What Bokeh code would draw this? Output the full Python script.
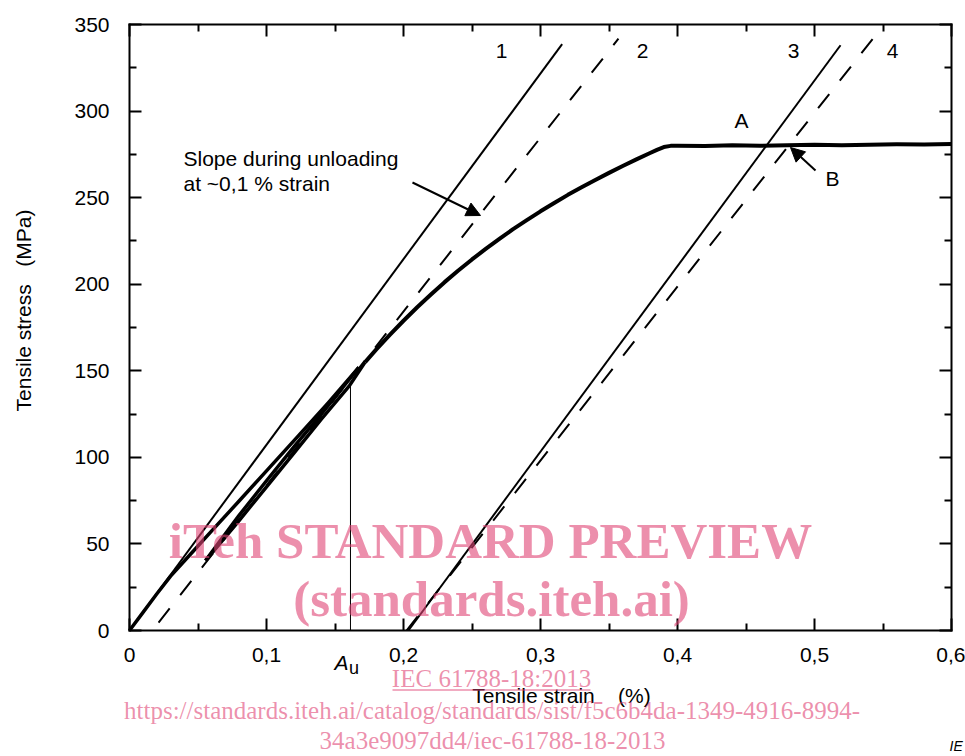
import math
from bokeh.plotting import figure
from bokeh.models import (Range1d, LinearAxis, FixedTicker, CustomJSTickFormatter,
                          Label, Arrow, NormalHead)
from bokeh.embed import file_html
from bokeh.resources import INLINE

# ---------------- data ----------------
x_ticks = [0, 0.1, 0.2, 0.3, 0.4, 0.5, 0.6]
x_minor = [0.05, 0.15, 0.25, 0.35, 0.45, 0.55]
y_ticks = [0, 50, 100, 150, 200, 250, 300, 350]
y_minor = [25, 75, 125, 175, 225, 275, 325]

# stress-strain curve (strain %, stress MPa)
loading_x = [0, 0.01, 0.02, 0.03, 0.045, 0.06, 0.08, 0.10, 0.1224, 0.145, 0.1674]
loading_y = [0, 10.6, 21.2, 31.4, 44.5, 57.5, 74.8, 92.2, 111.7, 131.5, 152]
unloading_x = [0.1674, 0.14, 0.12, 0.10, 0.08, 0.0555]
unloading_y = [152, 125, 106, 86.5, 66.5, 40.4]
reloading_x = [0.0555, 0.08, 0.10, 0.12, 0.14, 0.1606, 0.172]
reloading_y = [40.4, 63.5, 83, 102.5, 122, 141.5, 155]
post_x = [0.172, 0.18, 0.19, 0.20, 0.21, 0.22, 0.23, 0.24, 0.25, 0.26, 0.27, 0.28,
          0.29, 0.30, 0.31, 0.32, 0.33, 0.34, 0.35, 0.36, 0.37, 0.38, 0.385, 0.39,
          0.395, 0.40, 0.42, 0.44, 0.46, 0.48, 0.50, 0.52, 0.54, 0.56, 0.58, 0.60]
post_y = [155, 162.2, 170.7, 178.9, 186.7, 194.1, 201.2, 207.9, 214.3, 220.4, 226.2, 231.8,
          237.0, 242.1, 246.9, 251.6, 256.0, 260.2, 264.3, 268.3, 272.1, 275.8, 277.6, 279.2,
          279.9, 280, 279.8, 280.3, 280, 280.2, 280.5, 280.3, 280.6, 280.8, 280.7, 281]

# straight reference lines (start / end points)
line1_x = [0, 0.3158]
line1_y = [0, 338.7]
line2_x = [0.0212, 0.3569]
line2_y = [4.6, 341.8]
line3_x = [0.2036, 0.519]
line3_y = [0, 338]
line4_x = [0.2022, 0.5445]
line4_y = [0, 343.7]

au_x = [0.1613, 0.1613]
au_y = [0, 141.5]

line_names = ["1", "2", "3", "4"]

FONT = "Liberation Sans"
SERIF = "Liberation Serif"

# the frame covers the whole canvas; the data box (0..0.6, 0..350) sits at
# page px x 129..951, y 630..24
X_SCALE = 822 / 0.6
Y_SCALE = 606 / 350.0
W, H = 965, 756


def rf(px, py):
    """page pixel -> data coords"""
    return (px - 129) / X_SCALE, (630 - py) / Y_SCALE


x0, y1 = rf(0, 0)
x1, y0 = rf(W, H)

p = figure(width=W, height=H, output_backend="svg", toolbar_location=None,
           x_range=Range1d(x0, x1), y_range=Range1d(y0, y1),
           x_axis_location=None, y_axis_location=None,
           min_border_left=0, min_border_right=0, min_border_top=0,
           min_border_bottom=0)
p.xgrid.visible = False
p.ygrid.visible = False
p.outline_line_color = None
p.background_fill_color = "white"
p.border_fill_color = "white"

xt = FixedTicker(ticks=x_ticks, minor_ticks=x_minor)
yt = FixedTicker(ticks=y_ticks, minor_ticks=y_minor)
xfmt = CustomJSTickFormatter(code="return tick == 0 ? '0' : tick.toFixed(1).replace('.', ',');")
blank = CustomJSTickFormatter(code="return '';")


def style_axis(ax):
    ax.axis_line_width = 2
    ax.axis_line_cap = "square"
    ax.major_tick_line_width = 2
    ax.minor_tick_line_width = 2
    ax.major_tick_in = 12
    ax.major_tick_out = 0
    ax.minor_tick_in = 7
    ax.minor_tick_out = 0
    ax.major_label_text_font = FONT
    ax.major_label_text_font_size = "21px"
    ax.major_label_text_color = "black"


bottom = LinearAxis(ticker=xt, formatter=xfmt, fixed_location=0, bounds=(0, 0.6))
style_axis(bottom)
bottom.major_label_standoff = 17
p.add_layout(bottom, "below")

left = LinearAxis(ticker=yt, fixed_location=0, bounds=(0, 350))
style_axis(left)
left.major_label_standoff = 20
p.add_layout(left, "left")

top = LinearAxis(ticker=xt, formatter=blank, fixed_location=350, bounds=(0, 0.6))
style_axis(top)
top.major_label_standoff = 0
p.add_layout(top, "above")

right = LinearAxis(ticker=yt, formatter=blank, fixed_location=0.6, bounds=(0, 350))
style_axis(right)
right.major_label_standoff = 0
p.add_layout(right, "right")

# reference lines
p.line(line1_x, line1_y, line_color="black", line_width=2)
p.line(line2_x, line2_y, line_color="black", line_width=2, line_dash="18 17")
p.line(line3_x, line3_y, line_color="black", line_width=2)
p.line(line4_x, line4_y, line_color="black", line_width=2, line_dash="18 17")
p.line(au_x, au_y, line_color="black", line_width=1)

# curve
p.line(loading_x, loading_y, line_color="black", line_width=3.5, line_join="round")
p.line(unloading_x, unloading_y, line_color="black", line_width=3.5, line_join="round")
p.line(reloading_x, reloading_y, line_color="black", line_width=3.5, line_join="round")
p.line(post_x, post_y, line_color="black", line_width=4, line_join="round")


def label(px, py, text, size="21px", align="center", color="black", font=FONT,
          style="normal", alpha=1.0, angle=0.0):
    dx, dy = rf(px, py)
    p.add_layout(Label(x=dx, y=dy, text=text, text_font=font, text_font_size=size,
                       text_font_style=style, text_color=color, text_alpha=alpha,
                       text_align=align, text_baseline="middle", angle=angle))


# line numbers and point labels
for name, (lx, ly) in zip(line_names, [(501, 50), (642, 50), (793, 50), (892, 50)]):
    label(lx, ly, name)
label(741, 120, "A")
label(832, 178, "B")
label(183, 158, "Slope during unloading", align="left")
label(183, 183, "at ~0,1 % strain", align="left")

# arrows
for (tx, ty), (hx, hy) in [((412, 182), (480, 215)), ((815, 170), (790, 147))]:
    sx, sy = rf(tx, ty)
    ex, ey = rf(hx, hy)
    p.add_layout(Arrow(x_start=sx, y_start=sy, x_end=ex, y_end=ey, line_width=2,
                       line_color="black",
                       end=NormalHead(size=14, fill_color="black", line_color="black",
                                      line_width=1)))

# A_u label
label(348, 662, "A", align="right", style="italic")
label(348.5, 667, "u", size="18px", align="left")

# axis titles
label(561, 695, "Tensile strain\u00a0\u00a0\u00a0\u00a0(%)")
label(23, 310, "Tensile stress\u00a0\u00a0\u00a0(MPa)", angle=math.pi / 2)

# watermark
PINK = "#E04575"
label(490, 540, "iTeh STANDARD PREVIEW", size="51px", font=SERIF, style="bold",
      color=PINK, alpha=0.6)
label(491, 598, "(standards.iteh.ai)", size="51px", font=SERIF, style="bold",
      color=PINK, alpha=0.6)
label(491, 678, "IEC 61788-18:2013", size="25px", font=SERIF, color=PINK, alpha=0.6)
label(491.5, 710, "https://standards.iteh.ai/catalog/standards/sist/f5c6b4da-1349-4916-8994-",
      size="25px", font=SERIF, color=PINK, alpha=0.6)
label(492, 740, "34a3e9097dd4/iec-61788-18-2013", size="25px", font=SERIF,
      color=PINK, alpha=0.6)
ux1, uy1 = rf(392, 689.5)
ux2, uy2 = rf(590, 689.5)
p.add_layout(Arrow(x_start=ux1, y_start=uy1, x_end=ux2, y_end=uy2, end=None, start=None,
                   line_color=PINK, line_alpha=0.6, line_width=1.5))

# cropped figure credit at the bottom right corner
label(949, 745, "IE", size="14px", align="left", style="italic")

open("out.html", "w").write(file_html(p, INLINE))
